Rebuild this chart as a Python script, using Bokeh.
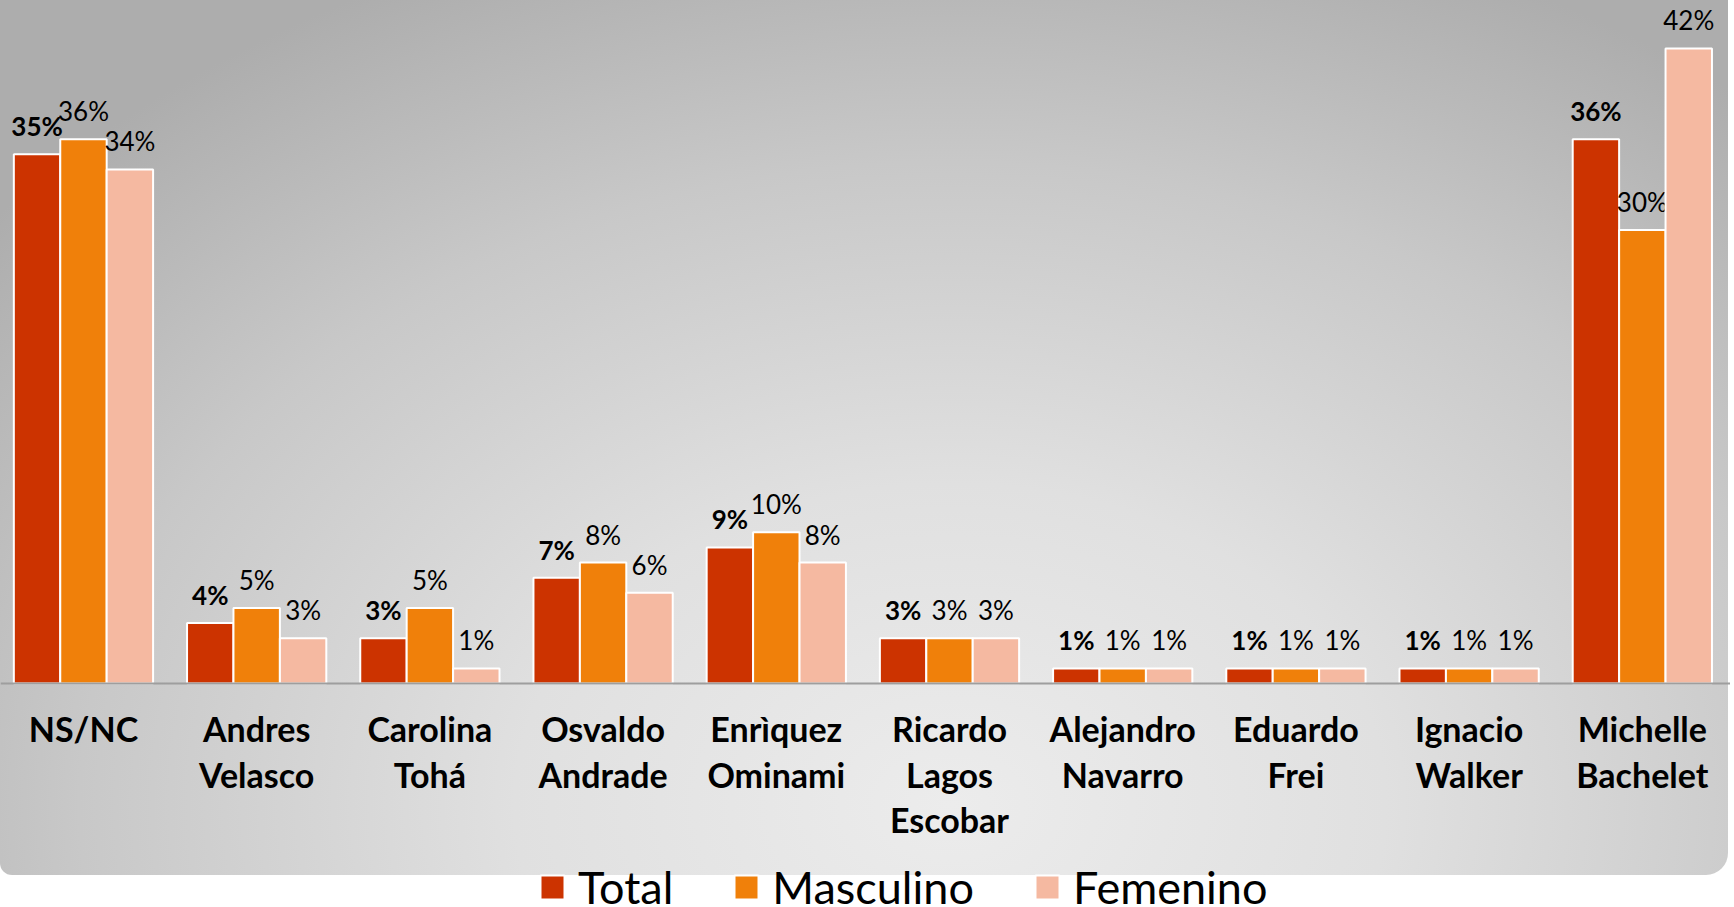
from bokeh.plotting import figure
from bokeh.models import ColumnDataSource, Range1d, FixedTicker
from bokeh.transform import dodge
from bokeh.core.properties import value
from bokeh.embed import file_html
from bokeh.resources import INLINE

categories = ["NS/NC", "Andres\nVelasco", "Carolina\nTohá", "Osvaldo\nAndrade",
              "Enrìquez\nOminami", "Ricardo\nLagos\nEscobar", "Alejandro\nNavarro",
              "Eduardo\nFrei", "Ignacio\nWalker", "Michelle\nBachelet"]
total = [35, 4, 3, 7, 9, 3, 1, 1, 1, 36]
masculino = [36, 5, 5, 8, 10, 3, 1, 1, 1, 30]
femenino = [34, 3, 1, 6, 8, 3, 1, 1, 1, 42]
series = ["Total", "Masculino", "Femenino"]
colors = ["#CC3300", "#F0800A", "#F5B9A1"]

idx = list(range(len(categories)))
src = ColumnDataSource(dict(
    idx=idx,
    total=total, masculino=masculino, femenino=femenino,
    total_lbl=[f"{v}%" for v in total],
    masculino_lbl=[f"{v}%" for v in masculino],
    femenino_lbl=[f"{v}%" for v in femenino],
))

W, H = 1730, 905
p = figure(width=W, height=H, output_backend="svg", toolbar_location=None,
           x_range=Range1d(-0.479, 9.509), y_range=Range1d(-14.683, 45.172),
           y_axis_location=None, min_border_left=0, min_border_right=0,
           min_border_top=0, min_border_bottom=0)
p.background_fill_alpha = 0
p.border_fill_alpha = 0
p.outline_line_color = None
p.xgrid.visible = False
p.ygrid.visible = False

css = """
:host::before {
  content: "";
  position: absolute;
  left: 0px; top: 0px;
  width: 1728px; height: 875px;
  border-radius: 0 0 22px 12px;
  background: radial-gradient(ellipse 72% 105% at 55% 92%, #ececec 0%, #e0e0e0 35%, #c8c8c8 70%, #adadad 100%);
  z-index: -1;
}
"""
p.stylesheets = [css]

bw = 0.268
offsets = [-bw, 0.0, bw]
keys = ["total", "masculino", "femenino"]
for k, name, c, off in zip(keys, series, colors, offsets):
    p.vbar(x=dodge("idx", off, range=p.x_range), top=k, width=bw, bottom=0,
           source=src, fill_color=c, line_color="white", line_width=2,
           legend_label=name)
    p.text(x=dodge("idx", off, range=p.x_range), y=k, text=k + "_lbl", source=src,
           text_align="center", text_baseline="alphabetic", y_offset=-28,
           text_font=value("Lato"), text_font_size="26px",
           text_font_style="bold" if k == "total" else "normal",
           text_color="#000000")

ax = p.xaxis[0]
ax.fixed_location = 0
ax.ticker = FixedTicker(ticks=idx)
ax.major_label_overrides = {i: c for i, c in zip(idx, categories)}
ax.major_label_text_font = "Lato"
ax.major_label_text_font_style = "bold"
ax.major_label_text_font_size = "34px"
ax.major_label_text_color = "#000000"
ax.major_label_text_line_height = 1.1
ax.major_label_standoff = 19
ax.axis_line_color = "#9e9e9e"
ax.axis_line_width = 2
ax.major_tick_line_color = None
ax.minor_tick_line_color = None

lg = p.legend[0]
lg.location = (537, -9)
lg.orientation = "horizontal"
lg.background_fill_alpha = 0
lg.border_line_color = None
lg.padding = 0
lg.margin = 0
lg.spacing = 58
lg.label_standoff = 11
lg.glyph_width = 30
lg.glyph_height = 30
lg.label_text_font = "Lato"
lg.label_text_font_size = "45px"
lg.label_text_color = "#000000"

open("out.html", "w").write(file_html(p, INLINE))
